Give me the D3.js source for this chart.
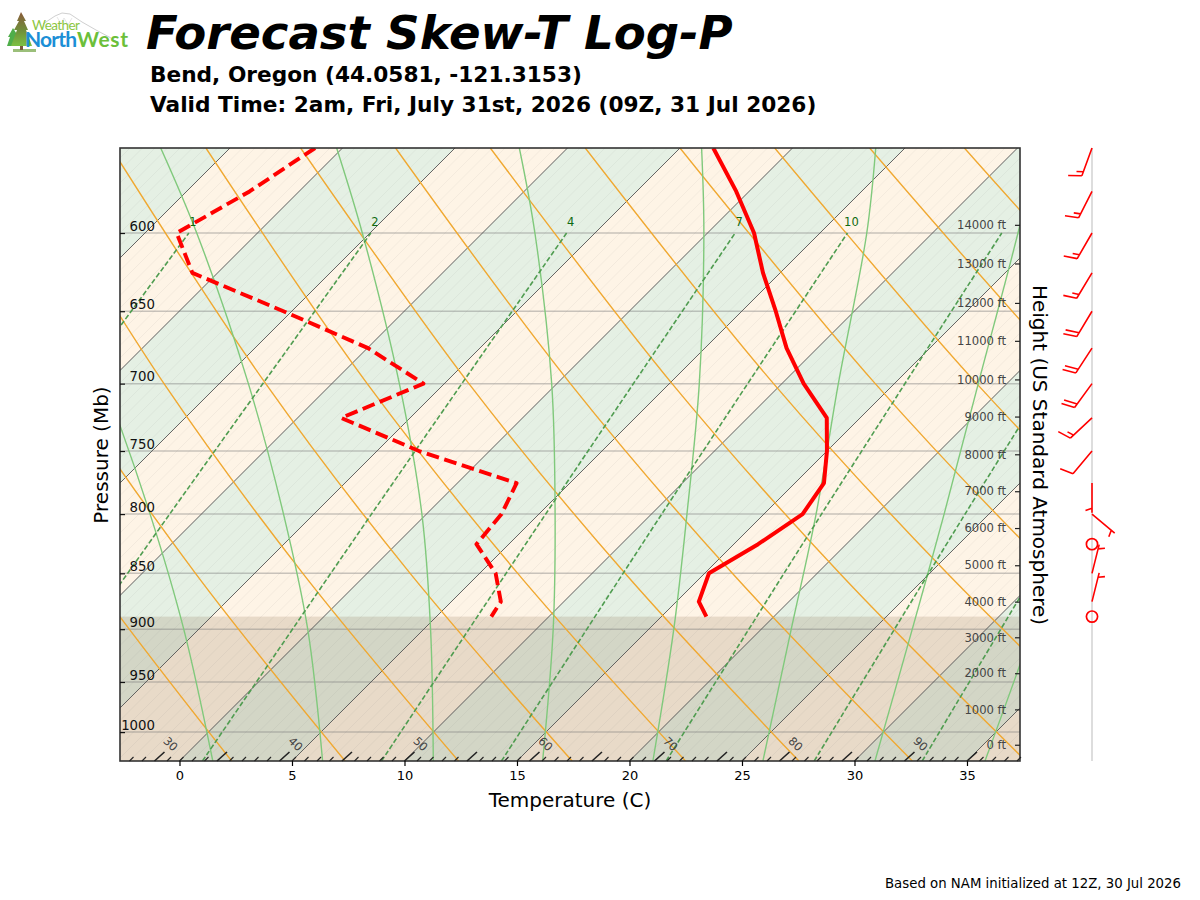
<!DOCTYPE html>
<html>
<head>
<meta charset="utf-8">
<title>Forecast Skew-T Log-P</title>
<script src="https://cdn.jsdelivr.net/npm/d3@7"></script>
<style>
    body { margin: 0; background: #fff; }
    svg { display: block; }
    text { font-family: "DejaVu Sans", sans-serif; }
</style>
</head>
<body>
<div id="chart"></div>
<script>
// sounding levels (Mb), one row per model level
var pressureLevels = [550, 575, 600, 625, 650, 675, 700, 725, 750, 775, 800, 825, 850, 875, 888.5];
var temperature = [-3.52, -0.57, 2.07, 4.24, 6.51, 8.63, 10.97, 13.52, 15.0, 16.29, 16.72, 16.08, 15.19, 16.0, 17.0];
var dewpoint = [-21.22, -22.2, -23.59, -21.12, -15.37, -9.97, -5.93, -8.06, -3.13, 2.63, 3.34, 3.56, 5.71, 7.2, 7.44];
var windDirection = [200, 207, 210, 211, 211, 213, 216, 227, 220, 180, 130, 0, 14, 14, 0];
var windSpeed = [15, 15, 15, 15, 20, 20, 20, 15, 10, 5, 5, 0, 5, 5, 0];
var surfacePressure = 888.5;

// axis ticks
var pressureTicks = [600, 650, 700, 750, 800, 850, 900, 950, 1000];
var celsiusTicks = [0, 5, 10, 15, 20, 25, 30, 35];
var fahrenheitLabels = [30, 40, 50, 60, 70, 80, 90];
var heightLabels = [0, 1000, 2000, 3000, 4000, 5000, 6000, 7000, 8000, 9000, 10000, 11000, 12000, 13000, 14000];
var heightPressures = [1013, 977, 941.5, 907.5, 875, 843, 811.5, 781.5, 752.5, 724, 697, 670, 644.5, 619, 595];

// isotherms every 5C, the green bands start at every other one
var isotherms = [-30, -25, -20, -15, -10, -5, 0, 5, 10, 15, 20, 25, 30, 35];
var greenBands = [-30, -20, -10, 0, 10, 20, 30];

// dry adiabats: temperature read at each of the levels
var dryLevels = [1030, 850, 700, 550];
var dryAdiabats = [
    [-2.72, -17.18, -31.0, -47.15],
    [2.32, -12.41, -26.49, -42.93],
    [7.36, -7.63, -21.97, -38.71],
    [12.40, -2.86, -17.46, -34.50],
    [17.45, 1.91, -12.94, -30.28],
    [22.49, 6.69, -8.43, -26.07],
    [27.53, 11.46, -3.91, -21.86],
    [32.57, 16.23, 0.60, -17.64],
    [37.62, 21.0, 5.12, -13.43],
    [42.66, 25.78, 9.63, -9.21],
    [47.70, 30.55, 14.15, -5.0],
    [52.74, 35.32, 18.66, -0.79],
    [57.79, 40.10, 23.18, 3.43],
    [62.83, 44.87, 27.69, 7.64]
];

// moist adiabats, same idea
var moistLevels = [1030, 900, 800, 700, 600, 550];
var moistAdiabats = [
    [1.48, -5.67, -12.28, -20.1, -29.5, -35.5],
    [6.36, -0.16, -6.35, -13.71, -22.7, -28.08],
    [11.28, 5.3, -0.2, -7.0, -15.34, -20.26],
    [16.14, 10.75, 5.72, -0.23, -7.67, -12.14],
    [21.04, 16.11, 11.58, 6.33, -0.16, -4.04],
    [25.93, 21.33, 17.32, 12.51, 7.08, 3.7],
    [30.91, 26.71, 23.01, 18.73, 13.8, 10.9],
    [35.8, 32.05, 28.6, 24.2, 19.5, 17.0]
];

// mixing ratio lines stop at 600, only the first five carry a label
var mixingLevels = [1030, 800, 600];
var mixingLabels = ["1", "2", "4", "7", "10", "", "", ""];
var mixingLines = [
    [-16.78, -19.75, -23.05],
    [-8.2, -11.41, -14.96],
    [1.02, -2.44, -6.26],
    [8.98, 5.3, 1.23],
    [14.31, 10.46, 6.22],
    [21.63, 17.56, 13.08],
    [28.21, 23.94, 19.24],
    [33.01, 28.6, 23.74]
];

var margin = {top: 148, right: 180, bottom: 139, left: 120};
var width = 1200, height = 900;
var plotRight = width - margin.right;
var plotBottom = height - margin.bottom;
var barbX = 1092;

var svg = d3.select("#chart").append("svg")
    .attr("width", width)
    .attr("height", height);

var xScale = d3.scaleLinear().domain([-2.644, 37.356]).range([margin.left, plotRight]);
var yScale = d3.scaleLog().domain([1030, 550]).range([plotBottom, margin.top]);

// isotherms lean one pixel right for every pixel up
function skewX(t, p) {
    return xScale(t) + (plotBottom - yScale(p));
}

function toCelsius(f) {
    return (f - 32) * 5 / 9;
}

var pathLine = d3.line()
    .x(function (d) { return skewX(d[0], d[1]); })
    .y(function (d) { return yScale(d[1]); });

var curveLine = d3.line()
    .x(function (d) { return skewX(d[0], d[1]); })
    .y(function (d) { return yScale(d[1]); })
    .curve(d3.curveCatmullRom);

function rowPoints(row, levels) {
    return row.map(function (t, i) { return [t, levels[i]]; });
}

svg.append("defs").append("clipPath").attr("id", "plot-clip")
    .append("rect")
    .attr("x", margin.left)
    .attr("y", margin.top)
    .attr("width", plotRight - margin.left)
    .attr("height", plotBottom - margin.top);

var plot = svg.append("g").attr("clip-path", "url(#plot-clip)");
var pTop = yScale.domain()[1], pBottom = yScale.domain()[0];

plot.append("rect")
    .attr("x", margin.left)
    .attr("y", margin.top)
    .attr("width", plotRight - margin.left)
    .attr("height", plotBottom - margin.top)
    .attr("fill", "#fef4e6");

// green bands
plot.selectAll(".band").data(greenBands).enter()
    .append("path")
    .attr("class", "band")
    .attr("fill", "#e5f0e4")
    .attr("d", function (t) {
        return pathLine([[t, pBottom], [t, pTop], [t + 5, pTop], [t + 5, pBottom]]) + "Z";
    });

// surface shading
plot.append("rect")
    .attr("x", margin.left)
    .attr("y", yScale(surfacePressure))
    .attr("width", plotRight - margin.left)
    .attr("height", plotBottom - yScale(surfacePressure))
    .attr("fill", "rgb(125,91,55)")
    .attr("opacity", 0.17);

// faint 1F lines, drawn off the edges of the plot
var fahrenheitMinor = d3.range(-25, 101);
plot.selectAll(".minor").data(fahrenheitMinor).enter()
    .append("path")
    .attr("class", "minor")
    .attr("fill", "none")
    .attr("stroke", "#777")
    .attr("stroke-opacity", 0.1)
    .attr("stroke-width", 0.8)
    .attr("d", function (f) {
        return pathLine([[toCelsius(f), pBottom], [toCelsius(f), pTop]]);
    });

// isobars
plot.selectAll(".isobar").data(pressureTicks).enter()
    .append("line")
    .attr("class", "isobar")
    .attr("x1", margin.left)
    .attr("x2", plotRight)
    .attr("y1", function (p) { return yScale(p); })
    .attr("y2", function (p) { return yScale(p); })
    .attr("stroke", "#777")
    .attr("stroke-opacity", 0.4)
    .attr("stroke-width", 1.5);

plot.selectAll(".isotherm").data(isotherms).enter()
    .append("path")
    .attr("class", "isotherm")
    .attr("fill", "none")
    .attr("stroke", "#555")
    .attr("stroke-width", 0.9)
    .attr("d", function (t) {
        return pathLine([[t, pBottom], [t, pTop]]);
    });

plot.selectAll(".dry").data(dryAdiabats).enter()
    .append("path")
    .attr("class", "dry")
    .attr("fill", "none")
    .attr("stroke", "#f0a830")
    .attr("stroke-width", 1.4)
    .attr("d", function (row) {
        return curveLine(rowPoints(row, dryLevels));
    });

plot.selectAll(".moist").data(moistAdiabats).enter()
    .append("path")
    .attr("class", "moist")
    .attr("fill", "none")
    .attr("stroke", "#80c97c")
    .attr("stroke-width", 1.4)
    .attr("d", function (row) {
        return curveLine(rowPoints(row, moistLevels));
    });

plot.selectAll(".mixing").data(mixingLines).enter()
    .append("path")
    .attr("class", "mixing")
    .attr("fill", "none")
    .attr("stroke", "#4f9c50")
    .attr("stroke-width", 1.6)
    .attr("stroke-dasharray", "5,2.4")
    .attr("d", function (row) {
        return curveLine(rowPoints(row, mixingLevels));
    });

plot.selectAll(".mixing-label").data(mixingLabels).enter()
    .append("text")
    .attr("class", "mixing-label")
    .attr("x", function (d, i) { return skewX(mixingLines[i][2], 600) + 4; })
    .attr("y", yScale(600) - 7)
    .attr("text-anchor", "middle")
    .attr("font-size", 11.5)
    .attr("fill", "#0f6a0f")
    .text(function (d) { return d; });

// dewpoint and temperature
plot.append("path")
    .attr("fill", "none")
    .attr("stroke", "#ff0000")
    .attr("stroke-width", 3.9)
    .attr("stroke-dasharray", "12.8,5.6")
    .attr("stroke-linejoin", "round")
    .attr("d", pathLine(rowPoints(dewpoint, pressureLevels)));

plot.append("path")
    .attr("fill", "none")
    .attr("stroke", "#ff0000")
    .attr("stroke-width", 4)
    .attr("stroke-linejoin", "round")
    .attr("d", pathLine(rowPoints(temperature, pressureLevels)));

// frame
svg.append("rect")
    .attr("x", margin.left)
    .attr("y", margin.top)
    .attr("width", plotRight - margin.left)
    .attr("height", plotBottom - margin.top)
    .attr("fill", "none")
    .attr("stroke", "#333")
    .attr("stroke-width", 1.6);

// bottom axis, celsius
var bottomAxis = svg.append("g")
    .attr("transform", "translate(0," + plotBottom + ")")
    .call(d3.axisBottom(xScale).tickValues(celsiusTicks).tickSize(5).tickPadding(5));
bottomAxis.select(".domain").remove();
bottomAxis.selectAll("text").attr("font-size", 13).attr("font-family", "DejaVu Sans").attr("fill", "#000");
bottomAxis.selectAll("line").attr("stroke", "#000").attr("stroke-width", 1.2);

// leaning fahrenheit ticks along the bottom edge
var fahrenheitTicks = d3.range(28, 100);
svg.append("g").selectAll("line").data(fahrenheitTicks).enter()
    .append("line")
    .attr("x1", function (f) { return xScale(toCelsius(f)); })
    .attr("y1", plotBottom)
    .attr("x2", function (f) { return xScale(toCelsius(f)) + (f % 5 == 0 ? 10 : 4); })
    .attr("y2", function (f) { return plotBottom - (f % 5 == 0 ? 9 : 4); })
    .attr("stroke", "#222")
    .attr("stroke-width", function (f) { return f % 5 == 0 ? 1.6 : 1.1; });

svg.append("g").selectAll("text").data(fahrenheitLabels).enter()
    .append("text")
    .attr("transform", function (f) {
        return "translate(" + (xScale(toCelsius(f)) + 16) + "," + (plotBottom - 17) + ") rotate(45)";
    })
    .attr("text-anchor", "middle")
    .attr("dy", "0.35em")
    .attr("font-size", 11.5)
    .attr("fill", "#444")
    .text(function (f) { return f; });

// pressure labels sit inside the plot, just above their tick
var leftAxis = svg.append("g")
    .attr("transform", "translate(" + margin.left + ",0)")
    .call(d3.axisLeft(yScale).tickValues(pressureTicks).tickFormat(d3.format("d")).tickSize(-5).tickPadding(-35));
leftAxis.select(".domain").remove();
leftAxis.selectAll("text")
    .attr("font-size", 13.3)
    .attr("font-family", "DejaVu Sans")
    .attr("fill", "#111")
    .attr("dy", "-0.22em");
leftAxis.selectAll("line").attr("stroke", "#111").attr("stroke-width", 1.2);

// height labels on the right
var rightAxis = svg.append("g")
    .attr("transform", "translate(" + plotRight + ",0)")
    .call(d3.axisRight(yScale).tickValues(heightPressures)
        .tickFormat(function (p, i) { return heightLabels[i] + " ft"; })
        .tickSize(-5).tickPadding(-14));
rightAxis.select(".domain").remove();
rightAxis.selectAll("text")
    .attr("text-anchor", "end")
    .attr("font-size", 11.6)
    .attr("font-family", "DejaVu Sans")
    .attr("fill", "#444");
rightAxis.selectAll("line").attr("stroke", "#222").attr("stroke-width", 1.2);

// wind barbs hang off a grey line right of the plot
svg.append("line")
    .attr("x1", barbX)
    .attr("x2", barbX)
    .attr("y1", margin.top)
    .attr("y2", plotBottom)
    .attr("stroke", "#cfcfcf")
    .attr("stroke-width", 1.4);

var staffLength = 29.6, featherStep = 4.4;

function barbPath(direction, speed) {
    var rad = direction * Math.PI / 180;
    var ux = Math.sin(rad), uy = -Math.cos(rad);
    var px = -uy, py = ux;
    var path = d3.path();
    path.moveTo(0, 0);
    path.lineTo(ux * staffLength, uy * staffLength);
    var along = staffLength;
    for (var n = Math.floor(speed / 10); n > 0; n--) {
        path.moveTo(ux * along, uy * along);
        path.lineTo(ux * along + px * 13 + ux * 4.4, uy * along + py * 13 + uy * 4.4);
        along -= featherStep;
    }
    if (speed % 10 >= 5) {
        if (speed < 10) {
            along -= featherStep;
        }
        path.moveTo(ux * along, uy * along);
        path.lineTo(ux * along + px * 6.5 + ux * 2.2, uy * along + py * 6.5 + uy * 2.2);
    }
    return path.toString();
}

var barbs = svg.append("g").selectAll("g").data(pressureLevels).enter()
    .append("g")
    .attr("transform", function (p) { return "translate(" + barbX + "," + yScale(p) + ")"; });

barbs.filter(function (p, i) { return windSpeed[i] > 0; })
    .append("path")
    .attr("fill", "none")
    .attr("stroke", "#ff0000")
    .attr("stroke-width", 1.6)
    .attr("d", function (p) {
        var i = pressureLevels.indexOf(p);
        return barbPath(windDirection[i], windSpeed[i]);
    });

barbs.filter(function (p, i) { return windSpeed[i] == 0; })
    .append("circle")
    .attr("r", 5.6)
    .attr("fill", "none")
    .attr("stroke", "#ff0000")
    .attr("stroke-width", 1.7);

// titles
svg.append("text")
    .attr("x", 146)
    .attr("y", 49)
    .attr("font-size", 46.6)
    .attr("font-weight", "bold")
    .attr("font-style", "italic")
    .attr("fill", "#000")
    .text("Forecast Skew-T Log-P");

svg.append("text")
    .attr("x", 150)
    .attr("y", 82)
    .attr("font-size", 21.67)
    .attr("font-weight", "bold")
    .text("Bend, Oregon (44.0581, -121.3153)");

svg.append("text")
    .attr("x", 150)
    .attr("y", 112)
    .attr("font-size", 21.67)
    .attr("font-weight", "bold")
    .text("Valid Time: 2am, Fri, July 31st, 2026 (09Z, 31 Jul 2026)");

svg.append("text")
    .attr("x", (margin.left + plotRight) / 2)
    .attr("y", 807)
    .attr("text-anchor", "middle")
    .attr("font-size", 20)
    .text("Temperature (C)");

svg.append("text")
    .attr("transform", "translate(108,455) rotate(-90)")
    .attr("text-anchor", "middle")
    .attr("font-size", 20)
    .text("Pressure (Mb)");

svg.append("text")
    .attr("transform", "translate(1033,455) rotate(90)")
    .attr("text-anchor", "middle")
    .attr("font-size", 20)
    .text("Height (US Standard Atmosphere)");

svg.append("text")
    .attr("x", 1181)
    .attr("y", 888)
    .attr("text-anchor", "end")
    .attr("font-size", 13.3)
    .text("Based on NAM initialized at 12Z, 30 Jul 2026");

// logo, a rough redraw of the mountain, trees and name
var logo = svg.append("g");
var treeFill = svg.select("defs").append("linearGradient")
    .attr("id", "tree-fill")
    .attr("x1", 0).attr("x2", 0).attr("y1", 0).attr("y2", 1);
treeFill.append("stop").attr("offset", "0%").attr("stop-color", "#8a5a3a");
treeFill.append("stop").attr("offset", "55%").attr("stop-color", "#6f8f3a");
treeFill.append("stop").attr("offset", "100%").attr("stop-color", "#7cc142");

logo.append("path")
    .attr("d", "M43,24 L55,16 L62,13 L70,14 L82,22 L96,30 L111,38")
    .attr("fill", "none")
    .attr("stroke", "#c9c9c9")
    .attr("stroke-width", 0.9);
logo.append("path")
    .attr("d", "M57,17 L61,24 L64,18 L68,25 L72,18")
    .attr("fill", "none")
    .attr("stroke", "#dcdcdc")
    .attr("stroke-width", 0.7);
logo.append("path")
    .attr("d", "M13,28 L8,37 L10,37 L7,46 L19,46 L16,36 L18,36 Z")
    .attr("fill", "#4fae4a");
logo.append("path")
    .attr("d", "M21,12 L17,21 L19,21 L14,30 L17,30 L11,46 L32,46 L26,30 L28,30 L24,21 L26,21 Z")
    .attr("fill", "url(#tree-fill)");
logo.append("rect")
    .attr("x", 13).attr("y", 49).attr("width", 23).attr("height", 3)
    .attr("fill", "#9bbf7a");
logo.append("rect")
    .attr("x", 20).attr("y", 46).attr("width", 3).attr("height", 4)
    .attr("fill", "#7a5a3a");
logo.append("text")
    .attr("x", 32).attr("y", 30)
    .attr("font-size", 13.5)
    .attr("textLength", 48)
    .attr("fill", "#8cc63f")
    .style("font-family", "Lato")
    .text("Weather");
logo.append("text")
    .attr("x", 25).attr("y", 47)
    .attr("font-size", 21)
    .attr("font-weight", 700)
    .attr("textLength", 52)
    .attr("fill", "#1c8fd6")
    .style("font-family", "Lato")
    .text("North");
logo.append("text")
    .attr("x", 77).attr("y", 47)
    .attr("font-size", 21)
    .attr("font-weight", 700)
    .attr("textLength", 51)
    .attr("fill", "#6cbf3a")
    .style("font-family", "Lato")
    .text("West");
</script>
</body>
</html>
